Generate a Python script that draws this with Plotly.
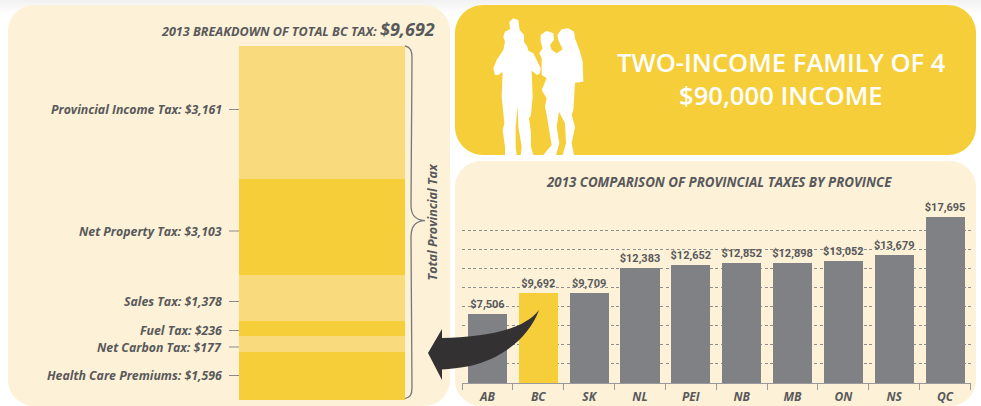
import plotly.graph_objects as go

W, H = 981, 406

# Left stacked bar: printed dollar amounts, and the band sizes as drawn
# (the printed graphic is not to scale, so drawn sizes are read off the picture in dollars).
tax_names = ["Provincial Income Tax", "Net Property Tax", "Sales Tax", "Fuel Tax", "Net Carbon Tax", "Health Care Premiums"]
tax_amounts = [3161, 3103, 1378, 236, 177, 1596]
tax_drawn = [3641, 2628, 1259, 411, 438, 1315]
total_tax = 9692

provinces = ["AB", "BC", "SK", "NL", "PEI", "NB", "MB", "ON", "NS", "QC"]
province_tax = [7506, 9692, 9709, 12383, 12652, 12852, 12898, 13052, 13679, 17695]

YELLOW = "#F6CE3A"
LIGHT = "#F9DA7C"
CREAM = "#FDF1D7"
GREY = "#808184"
TEXT = "#58595B"
DARK = "#333132"


def X(x):
    return x / W


def Y(y):
    return 1 - y / H


def path(*items):
    out = []
    for it in items:
        if isinstance(it, str):
            out.append(it)
        else:
            out.append(f"{X(it[0]):.5f},{Y(it[1]):.5f}")
    return " ".join(out)


def round_rect(x0, y0, x1, y1, r):
    return path("M", (x0 + r, y0), "L", (x1 - r, y0), "C", (x1 - r * .45, y0), (x1, y0 + r * .45), (x1, y0 + r),
                "L", (x1, y1 - r), "C", (x1, y1 - r * .45), (x1 - r * .45, y1), (x1 - r, y1),
                "L", (x0 + r, y1), "C", (x0 + r * .45, y1), (x0, y1 - r * .45), (x0, y1 - r),
                "L", (x0, y0 + r), "C", (x0, y0 + r * .45), (x0 + r * .45, y0), (x0 + r, y0), "Z")


def poly(points, ox=450, oy=0, s=1 / 3):
    items = []
    for i, p in enumerate(points):
        items += ["M" if i == 0 else "L", (ox + p[0] * s, oy + p[1] * s)]
    return path(*items, "Z")


man = [(178, 65), (190, 55), (205, 60), (209, 90), (222, 105), (222, 125), (232, 140), (235, 152), (250, 160),
       (260, 180), (272, 205), (270, 220), (262, 225), (245, 212), (248, 290), (243, 345), (237, 355), (243, 400),
       (243, 440), (250, 465), (212, 465), (215, 440), (205, 380), (203, 320), (197, 380), (197, 440), (200, 465),
       (165, 465), (165, 440), (158, 390), (163, 370), (155, 290), (158, 215), (145, 225), (135, 225), (130, 205),
       (140, 180), (160, 150), (165, 125), (160, 110), (165, 95), (180, 88)]
woman = [(272, 105), (290, 92), (310, 100), (312, 120), (300, 135), (305, 150), (320, 160), (338, 148), (325, 120),
         (322, 105), (335, 88), (355, 85), (372, 95), (375, 115), (390, 155), (398, 185), (400, 245), (375, 248),
         (370, 330), (365, 345), (375, 380), (365, 430), (372, 465), (338, 465), (348, 430), (345, 370), (327, 335),
         (320, 380), (328, 430), (318, 465), (280, 465), (305, 435), (290, 345), (285, 320), (290, 295), (275, 270),
         (290, 235), (275, 225), (275, 175), (268, 160), (278, 145), (272, 125)]

shapes = []
for i, c in enumerate(["#f2f2f2", "#f4f4f4", "#f6f6f6", "#f8f8f8", "#fafafa", "#fcfcfc", "#fefefe"]):
    shapes.append(dict(type="rect", xref="paper", yref="paper", x0=0, x1=1, y0=Y(2 * i), y1=Y(2 * i + 2),
                       fillcolor=c, line_width=0, layer="below"))
for (x0, y0, x1, y1, r, c) in [(8, 5, 450, 406, 26, CREAM), (455, 5, 976, 155, 28, YELLOW), (455, 161, 976, 406, 26, CREAM)]:
    shapes.append(dict(type="path", xref="paper", yref="paper", path=round_rect(x0, y0, x1, y1, r),
                       fillcolor=c, line_width=0, layer="below"))

# silhouette
for pts in (man, woman):
    shapes.append(dict(type="path", xref="paper", yref="paper", path=poly(pts), fillcolor="white",
                       line_width=0, layer="above"))

# brace
brace = path("M", (405, 46), "C", (410, 47), (412, 50), (412, 58), "L", (411, 205), "C", (411, 214), (414, 220), (425, 220.7),
             "C", (414, 221), (411, 228), (411, 237), "L", (412, 388), "C", (412, 395), (410, 397), (405, 398.5))
shapes.append(dict(type="path", xref="paper", yref="paper", path=brace, line=dict(color="#77787B", width=1.3), layer="above"))

# arrow
arrow = path("M", (428, 353), "L", (442, 329), "L", (442, 338), "C", (480, 337), (522, 332), (539, 310),
             "C", (530, 335), (505, 358), (470, 366), "C", (460, 368), (450, 369), (442, 369.5), "L", (442, 380), "Z")
shapes.append(dict(type="path", xref="paper", yref="paper", path=arrow, fillcolor=DARK, line_width=0, layer="above"))

fig = go.Figure()
for i, (name, v) in enumerate(zip(tax_names, tax_drawn)):
    fig.add_trace(go.Bar(x=["BC"], y=[v], width=[1], xaxis="x2", yaxis="y2", name=name, showlegend=False,
                         marker=dict(color=LIGHT if i % 2 == 0 else YELLOW, line_width=0)))

fig.add_trace(go.Bar(x=provinces, y=province_tax, xaxis="x", yaxis="y", showlegend=False,
                     marker=dict(color=[YELLOW if p == "BC" else GREY for p in provinces], line_width=0),
                     texttemplate="$%{y:,}", textposition="outside", cliponaxis=False,
                     textfont=dict(family="Roboto", size=11, color=TEXT, weight="bold"),
                     constraintext="none"))

ann = []


def note(x, y, text, size, anchor="center", color=TEXT, family="Open Sans", weight="bold", style="italic", angle=0):
    ann.append(dict(xref="paper", yref="paper", x=X(x), y=Y(y), text=text, showarrow=False, xanchor=anchor,
                    yanchor="middle", textangle=angle,
                    font=dict(family=family, size=size, color=color, weight=weight, style=style)))


note(437, 29, f"2013 BREAKDOWN OF TOTAL BC TAX: <span style='font-size:18px'>${total_tax:,}</span>", 12.6, "right")
label_y = [109.5, 231, 301.5, 330.5, 347, 375.5]
for name, amt, y in zip(tax_names, tax_amounts, label_y):
    note(224, y, f"{name}: ${amt:,}", 12.3, "right")
    shapes.append(dict(type="line", xref="paper", yref="paper", x0=X(229), x1=X(239), y0=Y(y), y1=Y(y),
                       line=dict(color="#8A8A8A", width=1), layer="below"))
note(432, 221.5, "Total Provincial Tax", 12.5, angle=-90)
note(719, 182, "2013 COMPARISON OF PROVINCIAL TAXES BY PROVINCE", 13.3)
note(781, 62, "TWO-INCOME FAMILY OF 4", 25.6, color="white", weight=600, style="normal")
note(781, 96, "$90,000 INCOME", 25.6, color="white", weight=600, style="normal")

fig.update_layout(
    width=W, height=H, margin=dict(l=0, r=0, t=0, b=0, pad=0), autosize=False,
    paper_bgcolor="white", plot_bgcolor="rgba(0,0,0,0)",
    barmode="stack", bargap=0.232, shapes=shapes, annotations=ann,
    xaxis=dict(domain=[X(462), X(970.5)], type="category", categoryorder="array", categoryarray=provinces,
               showgrid=False, showline=True, linecolor="#9A9A9E", linewidth=1, ticks="outside", ticklen=6,
               tickcolor="#9A9A9E", tickwidth=1, tickson="boundaries", anchor="y", ticklabelstandoff=3,
               tickfont=dict(family="Open Sans", size=12, color=TEXT, weight="bold", style="italic")),
    yaxis=dict(domain=[Y(383), Y(217)], range=[300, 17695], tick0=300, dtick=2000, showticklabels=False,
               showgrid=True, gridcolor="#8E8E8E", gridwidth=1, griddash="3px,2.5px", zeroline=False, showline=False,
               ticks="", anchor="x"),
    xaxis2=dict(domain=[X(239), X(405)], range=[-0.5, 0.5], type="category", visible=False, anchor="y2"),
    yaxis2=dict(domain=[Y(400), Y(46)], range=[total_tax, 0], visible=False, anchor="x2"),
)

fig.write_html("out.html", config={"displayModeBar": False},
               post_script="document.body.style.margin='0';document.body.style.overflow='hidden';")
